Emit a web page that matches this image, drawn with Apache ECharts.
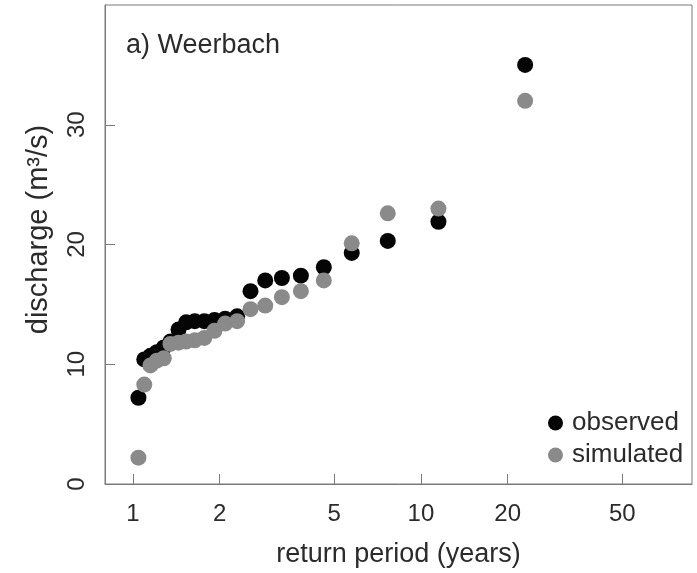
<!DOCTYPE html>
<html>
<head>
<meta charset="utf-8">
<script src="https://cdn.jsdelivr.net/npm/echarts@6/dist/echarts.min.js"></script>
<style>html,body{margin:0;padding:0;background:#fff}#c{width:697px;height:573px}</style>
</head>
<body>
<div id="c"></div>
<script>
// Return periods (years) shared by both series
const returnPeriod = [23, 11.5, 7.67, 5.75, 4.6, 3.83, 3.29, 2.88, 2.56, 2.3, 2.09, 1.92, 1.77, 1.64, 1.53, 1.44, 1.35, 1.28, 1.21, 1.15, 1.095, 1.045];
const observed  = [35.0, 21.9, 20.3, 19.3, 18.1, 17.4, 17.2, 17.0, 16.1, 14.0, 13.8, 13.7, 13.6, 13.6, 13.5, 12.9, 11.9, 11.4, 11.0, 10.7, 10.4, 7.2];
const simulated = [32.0, 23.0, 22.6, 20.1, 17.0, 16.1, 15.6, 14.9, 14.6, 13.6, 13.4, 12.8, 12.2, 12.0, 11.9, 11.8, 11.7, 10.5, 10.3, 9.9, 8.3, 2.2];
const xTickLabels = [1, 2, 5, 10, 20, 50];
const yTickLabels = [0, 10, 20, 30];

const toPts = (ys) => returnPeriod.map((t, i) => [Math.log10(t), ys[i]]);
const font = 'Liberation Sans, Arial, sans-serif';
const txt = '#2b2b2b';
const axisCol = '#7a7a7a';

const chart = echarts.init(document.getElementById('c'), null, {renderer: 'canvas'});
chart.setOption({
  animation: false,
  backgroundColor: '#fff',
  textStyle: {fontFamily: font},
  title: {
    text: 'a) Weerbach', left: 121, top: 27,
    textStyle: {fontFamily: font, fontSize: 27, fontWeight: 'normal', color: txt}
  },
  legend: {
    orient: 'vertical', left: 543, top: 402, itemGap: 0,
    itemWidth: 15, itemHeight: 15, icon: 'circle',
    textStyle: {fontFamily: font, fontSize: 26, color: txt, lineHeight: 32, padding: [0, 0, 0, 4]},
    data: ['observed', 'simulated']
  },
  grid: {left: 105, top: 5, width: 587, height: 491, show: true, borderColor: axisCol, borderWidth: 1},
  xAxis: {
    type: 'value',
    min: Math.log10(0.8), max: Math.log10(87.3),
    name: 'return period (years)', nameLocation: 'middle', nameGap: 57,
    nameTextStyle: {fontFamily: font, fontSize: 27, color: txt},
    axisLine: {show: true, onZero: false, lineStyle: {color: axisCol, width: 1}},
    axisTick: {show: true, inside: true, length: 10, lineStyle: {color: axisCol}, customValues: xTickLabels.map(Math.log10)},
    axisLabel: {
      customValues: xTickLabels.map(Math.log10), margin: 18,
      fontFamily: font, fontSize: 24, color: txt,
      formatter: (v) => String(Math.round(Math.pow(10, v)))
    },
    splitLine: {show: false}
  },
  yAxis: {
    type: 'value', min: 0, max: 40,
    name: 'discharge (m³/s)', nameLocation: 'middle', nameGap: 52, nameRotate: 90,
    nameTextStyle: {fontFamily: font, fontSize: 29, color: txt, padding: [0, 0, 0, 30]},
    axisLine: {show: true, onZero: false, lineStyle: {color: axisCol, width: 1}},
    axisTick: {show: true, inside: true, length: 10, lineStyle: {color: axisCol}, customValues: yTickLabels},
    axisLabel: {customValues: yTickLabels, rotate: 90, margin: 16, fontFamily: font, fontSize: 24, color: txt},
    splitLine: {show: false}
  },
  series: [
    {name: 'observed', type: 'scatter', symbolSize: 16, itemStyle: {color: '#050505', opacity: 1}, data: toPts(observed)},
    {name: 'simulated', type: 'scatter', symbolSize: 16, itemStyle: {color: '#8a8a8a', opacity: 1}, data: toPts(simulated)}
  ]
});
</script>
</body>
</html>
